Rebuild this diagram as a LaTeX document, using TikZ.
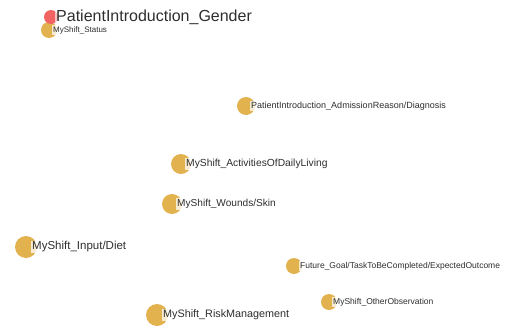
\documentclass[tikz,border=0pt]{standalone}
\usepackage{fontspec}
\setmainfont{Liberation Sans}
\definecolor{dotgold}{HTML}{E2B24F}
\definecolor{dotred}{HTML}{F26461}
\definecolor{labelgray}{HTML}{2E2E2E}
\tikzset{
  dot/.style={circle, fill=dotgold, draw=none, inner sep=0pt},
  reddot/.style={circle, fill=dotred, draw=none, inner sep=0pt},
  tag/.style={anchor=west, fill=white, fill opacity=0.75, text opacity=1,
    text=labelgray, inner sep=1pt},
}
\newcommand{\fs}[1]{\fontsize{#1}{#1}\selectfont}
\begin{document}
\begin{tikzpicture}[x=1pt, y=-1pt]
  \useasboundingbox (0,0) rectangle (507,327);
  % topic points
  \node[dot, minimum size=16pt] (c2) at (49,30) {};
  \node[reddot, minimum size=14pt] (c1) at (51,17) {};
  \node[dot, minimum size=18pt] (c3) at (246,106) {};
  \node[dot, minimum size=20pt] (c4) at (181,164) {};
  \node[dot, minimum size=20pt] (c5) at (172,204) {};
  \node[dot, minimum size=22pt] (c6) at (26,247) {};
  \node[dot, minimum size=16pt] (c7) at (294,266) {};
  \node[dot, minimum size=16pt] (c8) at (329,302) {};
  \node[dot, minimum size=22pt] (c9) at (157,315) {};
  % labels
  \node[tag, font=\fs{8}] (t2) at ([xshift=3pt]c2.center) {MyShift\_Status};
  \node[tag, font=\fs{16}, fill opacity=0.6] (t1) at ([xshift=4pt]c1.center) {PatientIntroduction\_Gender};
  \node[tag, font=\fs{9}] (t3) at ([xshift=4pt]c3.center) {PatientIntroduction\_AdmissionReason/Diagnosis};
  \node[tag, font=\fs{10.3}] (t4) at ([xshift=4pt]c4.center) {MyShift\_ActivitiesOfDailyLiving};
  \node[tag, font=\fs{10.1}] (t5) at ([xshift=4pt]c5.center) {MyShift\_Wounds/Skin};
  \node[tag, font=\fs{11.5}] (t6) at ([xshift=5pt]c6.center) {MyShift\_Input/Diet};
  \node[tag, font=\fs{8.5}] (t7) at ([xshift=5pt]c7.center) {Future\_Goal/TaskToBeCompleted/ExpectedOutcome};
  \node[tag, font=\fs{8.5}] (t8) at ([xshift=3pt]c8.center) {MyShift\_OtherObservation};
  \node[tag, font=\fs{10.8}] (t9) at ([xshift=5pt]c9.center) {MyShift\_RiskManagement};
\end{tikzpicture}
\end{document}
